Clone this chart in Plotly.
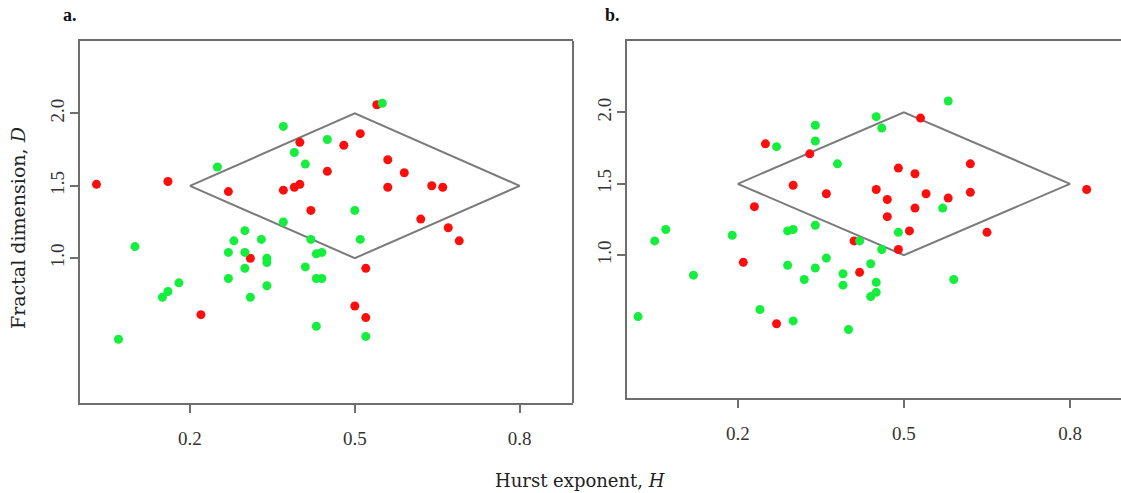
import plotly.graph_objects as go

# ---------------- data ----------------
# Panel a
a_red_H = [0.03, 0.16, 0.27, 0.37, 0.54, 0.40, 0.48, 0.51, 0.45, 0.56, 0.59, 0.39, 0.40,
           0.56, 0.64, 0.66, 0.42, 0.62, 0.67, 0.69, 0.52, 0.50, 0.52, 0.31, 0.22]
a_red_D = [1.51, 1.53, 1.46, 1.47, 2.06, 1.80, 1.78, 1.86, 1.60, 1.68, 1.59, 1.49, 1.51,
           1.49, 1.50, 1.49, 1.33, 1.27, 1.21, 1.12, 0.93, 0.67, 0.59, 1.00, 0.61]
a_green_H = [0.25, 0.37, 0.37, 0.55, 0.45, 0.39, 0.41, 0.50, 0.42, 0.51, 0.43, 0.44, 0.41,
             0.43, 0.44, 0.43, 0.52, 0.10, 0.30, 0.28, 0.33, 0.27, 0.30, 0.34, 0.34, 0.30,
             0.27, 0.34, 0.31, 0.18, 0.16, 0.15, 0.07]
a_green_D = [1.63, 1.91, 1.25, 2.07, 1.82, 1.73, 1.65, 1.33, 1.13, 1.13, 1.03, 1.04, 0.94,
             0.86, 0.86, 0.53, 0.46, 1.08, 1.19, 1.12, 1.13, 1.04, 1.04, 1.00, 0.97, 0.93,
             0.86, 0.81, 0.73, 0.83, 0.77, 0.73, 0.44]

# Panel b
b_red_H = [0.25, 0.33, 0.30, 0.36, 0.23, 0.53, 0.49, 0.52, 0.62, 0.45, 0.54, 0.62, 0.47,
           0.58, 0.52, 0.47, 0.83, 0.65, 0.51, 0.41, 0.49, 0.42, 0.21, 0.27]
b_red_D = [1.78, 1.71, 1.49, 1.43, 1.34, 1.96, 1.61, 1.57, 1.64, 1.46, 1.43, 1.44, 1.39,
           1.40, 1.33, 1.27, 1.46, 1.16, 1.17, 1.10, 1.04, 0.88, 0.95, 0.52]
b_green_H = [0.34, 0.34, 0.27, 0.38, 0.34, 0.58, 0.45, 0.46, 0.57, 0.49, 0.42, 0.46, 0.44,
             0.45, 0.45, 0.44, 0.59, 0.40, 0.07, 0.05, 0.19, 0.29, 0.30, 0.12, 0.29, 0.36,
             0.34, 0.32, 0.39, 0.39, 0.02, 0.24, 0.30]
b_green_D = [1.91, 1.80, 1.76, 1.64, 1.21, 2.08, 1.97, 1.89, 1.33, 1.16, 1.10, 1.04, 0.94,
             0.81, 0.74, 0.71, 0.83, 0.48, 1.18, 1.10, 1.14, 1.17, 1.18, 0.86, 0.93, 0.98,
             0.91, 0.83, 0.87, 0.79, 0.57, 0.62, 0.54]

# Diamond region
diamond_H = [0.2, 0.5, 0.8, 0.5, 0.2]
diamond_D = [1.5, 2.0, 1.5, 1.0, 1.5]

x_ticks = [0.2, 0.5, 0.8]
x_ticklabels = ["0.2", "0.5", "0.8"]
y_ticks = [1.0, 1.5, 2.0]
y_ticklabels = ["1.0", "1.5", "2.0"]

RED = "#ff0d0d"
GREEN = "#14ee3c"
LINE = "#7a7a7a"
AXC = "#6e6e6e"

W, H = 1121, 493

fig = go.Figure()

def add_panel(xa, ya, rh, rd, gh, gd):
    fig.add_trace(go.Scatter(x=diamond_H, y=diamond_D, mode="lines",
                             line=dict(color=LINE, width=2), xaxis=xa, yaxis=ya,
                             hoverinfo="skip", showlegend=False))
    fig.add_trace(go.Scatter(x=rh, y=rd, mode="markers",
                             marker=dict(color=RED, size=9, line=dict(width=0)),
                             xaxis=xa, yaxis=ya, showlegend=False))
    fig.add_trace(go.Scatter(x=gh, y=gd, mode="markers",
                             marker=dict(color=GREEN, size=9, line=dict(width=0)),
                             xaxis=xa, yaxis=ya, showlegend=False))

add_panel("x", "y", a_red_H, a_red_D, a_green_H, a_green_D)
add_panel("x2", "y2", b_red_H, b_red_D, b_green_H, b_green_D)

tickfont = dict(family="Liberation Serif", size=19, color="#333333")

common_x = dict(tickmode="array", tickvals=x_ticks, ticktext=x_ticklabels,
                showgrid=False, zeroline=False, showline=True, linecolor=AXC, linewidth=2,
                ticks="outside", ticklen=8, tickwidth=1.5, tickcolor=AXC,
                tickfont=tickfont, ticklabelstandoff=9, mirror=True)
common_y = dict(tickmode="array", tickvals=y_ticks, ticktext=y_ticklabels,
                showgrid=False, zeroline=False, showline=True, linecolor=AXC, linewidth=2,
                ticks="outside", ticklen=8, tickwidth=1.5, tickcolor=AXC,
                tickfont=tickfont, tickangle=-90, ticklabelstandoff=-2, mirror=False,
                side="left")

fig.update_layout(
    width=W, height=H,
    margin=dict(l=0, r=0, t=0, b=0, autoexpand=False),
    paper_bgcolor="white", plot_bgcolor="white",
    xaxis=dict(domain=[80 / W, 573 / W], range=[0.0, 0.897], anchor="y", **common_x),
    yaxis=dict(domain=[1 - 403 / H, 1 - 41 / H], range=[0.0, 2.5], anchor="x", **common_y),
    xaxis2=dict(domain=[627 / W, 1.0], range=[0.0, 0.892], anchor="y2", **common_x),
    yaxis2=dict(domain=[1 - 398 / H, 1 - 41 / H], range=[0.0, 2.5], anchor="x2", **common_y),
)

# right border of panel a
fig.add_shape(type="line", xref="x domain", yref="y domain", x0=1, x1=1, y0=0, y1=1,
              line=dict(color=AXC, width=2))

fig.add_annotation(text="<b>a.</b>", x=70 / W, y=1 - 15 / H, xref="paper", yref="paper",
                   showarrow=False, font=dict(family="Liberation Serif", size=18, color="#111"),
                   xanchor="center", yanchor="middle")
fig.add_annotation(text="<b>b.</b>", x=612 / W, y=1 - 15 / H, xref="paper", yref="paper",
                   showarrow=False, font=dict(family="Liberation Serif", size=18, color="#111"),
                   xanchor="center", yanchor="middle")
fig.add_annotation(text="Hurst exponent, <i>H</i>", x=580 / W, y=1 - 480 / H,
                   xref="paper", yref="paper", showarrow=False,
                   font=dict(family="DejaVu Serif", size=18, color="#222"),
                   xanchor="center", yanchor="middle")
fig.add_annotation(text="Fractal dimension, <i>D</i>", x=18 / W, y=1 - 228 / H,
                   xref="paper", yref="paper", showarrow=False, textangle=-90,
                   font=dict(family="DejaVu Serif", size=19, color="#222"),
                   xanchor="center", yanchor="middle")

fig.write_html("out.html", config={"displayModeBar": False},
               post_script="document.body.style.margin='0';document.body.style.overflow='hidden';")
